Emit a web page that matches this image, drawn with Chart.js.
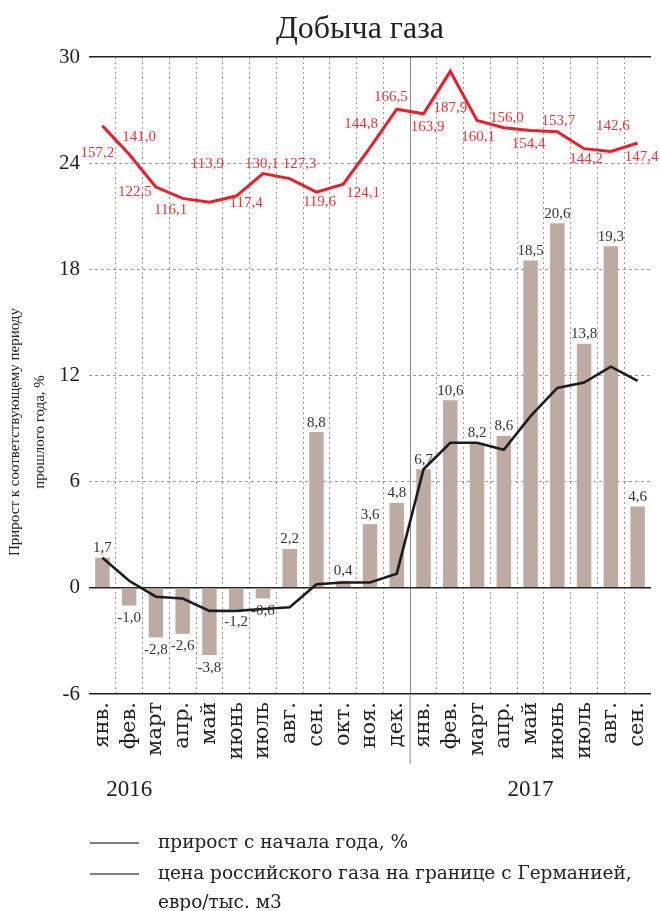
<!DOCTYPE html>
<html lang="ru">
<head>
<meta charset="utf-8">
<title>Добыча газа</title>
<script src="https://cdn.jsdelivr.net/npm/chart.js@4.4.1/dist/chart.umd.min.js"></script>
<style>
  html, body { margin: 0; padding: 0; background: #fff; }
</style>
</head>
<body>
<canvas id="gasChart" width="660" height="911"></canvas>
<script>
// Добыча газа: прирост к соответствующему периоду прошлого года и цена газа

const months = ["янв.", "фев.", "март", "апр.", "май", "июнь", "июль", "авг.", "сен.", "окт.", "ноя.", "дек.",
  "янв.", "фев.", "март", "апр.", "май", "июнь", "июль", "авг.", "сен."];
const years = ["2016", "2017"];

// столбцы: прирост к соответствующему периоду прошлого года, %
const yoyGrowth = [1.7, -1.0, -2.8, -2.6, -3.8, -1.2, -0.6, 2.2, 8.8, 0.4, 3.6, 4.8,
  6.7, 10.6, 8.2, 8.6, 18.5, 20.6, 13.8, 19.3, 4.6];

// черная линия: прирост с начала года, %
const ytdGrowth = [1.7, 0.4, -0.5, -0.6, -1.3, -1.3, -1.2, -1.1, 0.2, 0.3, 0.3, 0.8,
  6.7, 8.2, 8.2, 7.8, 9.7, 11.3, 11.6, 12.5, 11.7];

// красная линия: цена российского газа на границе с Германией, евро/тыс. м3
const gasPrice = [157.2, 141.0, 122.5, 116.1, 113.9, 117.4, 130.1, 127.3, 119.6, 124.1, 144.8, 166.5,
  163.9, 187.9, 160.1, 156.0, 154.4, 153.7, 144.2, 142.6, 147.4];

const yTicks = [-6, 0, 6, 12, 18, 24, 30];

const legendLines = [
  ["прирост с начала года, %"],
  ["цена российского газа на границе с Германией,", "евро/тыс. м3"],
];
const yTitle = ["Прирост к соответствующему периоду", "прошлого года, %"];

// куда сдвинуть подписи цены относительно точки (dx, dy)
const priceLabelShift = [
  [-5, 27], [10, -17], [-21, 5], [-12, 12], [-2, -38], [10, 7], [-1, -10], [10, -14], [3, 10],
  [20, 9], [-9, -24], [-6, -12], [4, 13], [0, 37], [1, 17], [3, -10], [-2, 13], [1, -11],
  [2, 10], [2, -25], [4, 14],
];

const FONT = "'Liberation Serif', 'DejaVu Serif', serif";
const TEXT_FONT = "'DejaVu Serif', 'Liberation Serif', serif";
const fmt = (v) => v.toFixed(1).replace(".", ",");

const annotate = {
  id: "annotate",
  afterDatasetsDraw(chart) {
    const ctx = chart.ctx;
    ctx.save();
    ctx.textAlign = "center";

    // подписи столбцов
    ctx.font = "15px " + FONT;
    ctx.fillStyle = "#333";
    chart.getDatasetMeta(2).data.forEach((bar, i) => {
      const v = yoyGrowth[i];
      if (v >= 0) {
        ctx.textBaseline = "bottom";
        ctx.fillText(fmt(v), bar.x, bar.y - 2);
      } else {
        ctx.textBaseline = "top";
        ctx.fillText(fmt(v), bar.x, bar.y + 5);
      }
    });

    // подписи цены
    ctx.fillStyle = "#e8343c";
    ctx.textBaseline = "middle";
    chart.getDatasetMeta(1).data.forEach((pt, i) => {
      const [dx, dy] = priceLabelShift[i];
      ctx.fillText(fmt(gasPrice[i]), pt.x + dx, pt.y + dy);
    });
    ctx.restore();
  },
  afterDraw(chart) {
    const ctx = chart.ctx;
    const x = chart.scales.x;
    const area = chart.chartArea;
    ctx.save();

    // заголовок
    ctx.fillStyle = "#222";
    ctx.font = "32px " + FONT;
    ctx.textAlign = "center";
    ctx.textBaseline = "alphabetic";
    ctx.fillText("Добыча газа", 360, 38);

    // разделитель лет под осью
    const sep = (x.getPixelForValue(11) + x.getPixelForValue(12)) / 2;
    ctx.strokeStyle = "#8c8c8c";
    ctx.lineWidth = 1;
    ctx.beginPath();
    ctx.moveTo(sep, area.bottom);
    ctx.lineTo(sep, 764);
    ctx.stroke();

    // годы
    ctx.font = "23px " + FONT;
    ctx.textBaseline = "middle";
    ctx.fillText(years[0], x.getPixelForValue(1), 790);
    ctx.fillText(years[1], x.getPixelForValue(16), 790);

    // подпись оси Y
    ctx.font = "15px " + FONT;
    [[15, yTitle[0]], [40, yTitle[1]]].forEach(([px, t]) => {
      ctx.save();
      ctx.translate(px, 432);
      ctx.rotate(-Math.PI / 2);
      ctx.fillText(t, 0, 0);
      ctx.restore();
    });

    // легенда
    ctx.font = "18.5px " + TEXT_FONT;
    ctx.textAlign = "left";
    const rows = [843, 874];
    legendLines.forEach((lines, i) => {
      ctx.strokeStyle = "#555";
      ctx.lineWidth = 1.5;
      ctx.beginPath();
      ctx.moveTo(90, rows[i]);
      ctx.lineTo(139, rows[i]);
      ctx.stroke();
      lines.forEach((t, j) => ctx.fillText(t, 158, rows[i] + j * 29));
    });
    ctx.restore();
  },
};

const solidY = (v) => v === 30 || v === 0 || v === -6;

new Chart(document.getElementById("gasChart"), {
  data: {
    labels: months,
    datasets: [
      {
        type: "line",
        label: legendLines[0][0],
        data: ytdGrowth,
        borderColor: "#1c1c1c",
        borderWidth: 2.6,
        pointRadius: 0,
        tension: 0,
        yAxisID: "y",
        order: 1,
      },
      {
        type: "line",
        label: legendLines[1].join(" "),
        data: gasPrice,
        borderColor: "#e8202a",
        borderWidth: 3,
        pointRadius: 0,
        tension: 0,
        yAxisID: "y2",
        order: 2,
      },
      {
        type: "bar",
        label: "прирост к соответствующему периоду прошлого года, %",
        data: yoyGrowth,
        backgroundColor: "#bcaaa3",
        barPercentage: 0.54,
        categoryPercentage: 1,
        yAxisID: "y",
        order: 3,
      },
    ],
  },
  options: {
    responsive: false,
    animation: false,
    devicePixelRatio: 1,
    layout: { padding: { top: 57, right: 9, left: 0, bottom: 0 } },
    plugins: {
      legend: { display: false },
      title: { display: false },
      tooltip: { enabled: false },
    },
    scales: {
      x: {
        offset: true,
        grid: {
          offset: true,
          drawTicks: false,
          lineWidth: 1,
          color: (c) => {
            if (c.type !== "tick" || c.index === 0) return "rgba(0,0,0,0)";
            return c.index === 12 ? "#8c8c8c" : "#9a9a9a";
          },
        },
        border: { display: false, dash: (c) => (c.index === 12 ? [] : [2, 3]) },
        ticks: {
          autoSkip: false,
          minRotation: 90,
          maxRotation: 90,
          padding: 8,
          color: "#222",
          font: { family: TEXT_FONT, size: 21 },
        },
        afterFit: (s) => {
          s.height = 217;
          s.paddingLeft = 0;
          s.paddingRight = 0;
        },
      },
      y: {
        min: -6,
        max: 30,
        afterBuildTicks: (s) => { s.ticks = yTicks.map((v) => ({ value: v })); },
        grid: {
          drawTicks: false,
          color: (c) => (solidY(c.tick.value) ? "#222" : "#9a9a9a"),
          lineWidth: (c) => (solidY(c.tick.value) ? 1.6 : 1),
        },
        border: { display: false, dash: (c) => (c.tick && solidY(c.tick.value) ? [] : [3, 3]) },
        ticks: {
          padding: 9,
          color: "#222",
          font: { family: FONT, size: 21 },
        },
        afterFit: (s) => { s.width = 89; },
      },
      y2: {
        display: false,
        min: -164,
        max: 196,
      },
    },
  },
  plugins: [annotate],
});
</script>
</body>
</html>
